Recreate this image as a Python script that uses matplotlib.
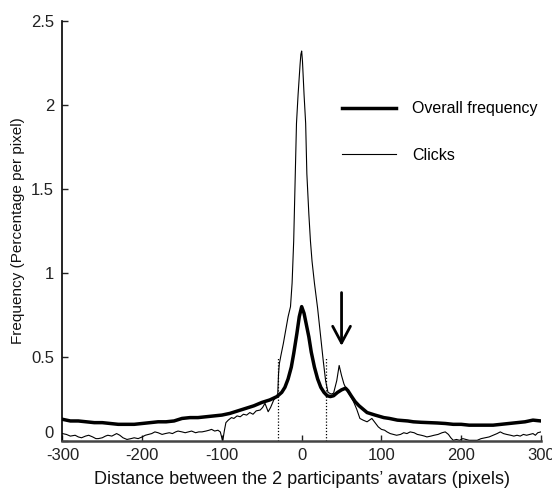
import matplotlib

matplotlib.use("Agg")
import matplotlib.pyplot as plt

plt.rcParams["font.family"] = ["Liberation Sans", "DejaVu Sans"]

# overall frequency (thick line)
overall_x = [-300, -290, -280, -270, -260, -250, -240, -230, -220, -210, -200,
             -190, -180, -170, -160, -150, -140, -130, -120, -110, -100, -90,
             -80, -70, -60, -50, -40, -31, -25, -21, -17, -13, -10, -6, -3, 0,
             3, 6, 9, 12, 16, 20, 24, 28, 32, 36, 40, 45, 50, 55, 58, 62, 67,
             72, 82, 92, 103, 110, 120, 133, 140, 150, 160, 170, 180, 190, 200,
             210, 220, 230, 240, 250, 260, 270, 280, 290, 300]
overall_y = [0.13, 0.12, 0.12, 0.115, 0.11, 0.11, 0.105, 0.10, 0.10, 0.10, 0.105,
             0.11, 0.115, 0.115, 0.12, 0.135, 0.14, 0.14, 0.145, 0.15, 0.155, 0.165,
             0.18, 0.195, 0.21, 0.23, 0.245, 0.265, 0.29, 0.32, 0.37, 0.44, 0.52, 0.64, 0.74, 0.80,
             0.76, 0.69, 0.62, 0.53, 0.44, 0.37, 0.32, 0.29, 0.27, 0.265, 0.27, 0.29, 0.305, 0.315, 0.30, 0.27, 0.235,
             0.21, 0.17, 0.155, 0.14, 0.135, 0.125, 0.12, 0.115, 0.112, 0.11, 0.108, 0.105, 0.10, 0.10,
             0.095, 0.095, 0.095, 0.095, 0.10, 0.105, 0.11, 0.115, 0.125, 0.12]

# clicks (thin line)
clicks_x = [-300, -295, -290, -284, -280, -276, -271, -267, -262, -258, -255, -250,
            -246, -243, -238, -232, -228, -224, -219, -214, -210, -205, -200, -196,
            -192, -188, -184, -180, -175, -171, -166, -162, -158, -155, -150, -146,
            -142, -138, -133, -129, -125, -120, -116, -113, -109, -105, -102, -99,
            -97, -95, -92, -88, -85, -81, -77, -73, -69, -65, -61, -57, -52, -49,
            -46, -44, -42, -39, -35, -32, -30, -29, -28, -26, -23, -20, -17, -14,
            -12, -10, -8, -6.5, -4.5, -2, -1, 0, 1, 3, 5, 6.5, 9, 11, 13, 16, 20,
            24, 27, 30, 33, 37, 40, 44, 47, 50, 53, 57, 61, 65, 69, 73, 77, 82, 85,
            88, 92, 96, 100, 104, 107, 111, 115, 119, 124, 128, 132, 136, 141, 145,
            150, 154, 157, 162, 166, 171, 176, 180, 184, 187, 190, 194, 198, 202,
            206, 210, 215, 220, 225, 230, 235, 240, 245, 249, 253, 257, 262, 266,
            270, 274, 278, 282, 286, 290, 293, 296, 300]
clicks_y = [0.045, 0.04, 0.03, 0.035, 0.025, 0.02, 0.03, 0.035, 0.025, 0.015, 0.015, 0.02,
            0.03, 0.035, 0.03, 0.045, 0.035, 0.02, 0.01, 0.015, 0.02, 0.015, 0.025, 0.035,
            0.04, 0.045, 0.055, 0.05, 0.04, 0.045, 0.05, 0.045, 0.055, 0.06, 0.055, 0.05,
            0.055, 0.06, 0.05, 0.055, 0.055, 0.06, 0.065, 0.07, 0.06, 0.065, 0.055, 0.0,
            0.06, 0.11, 0.125, 0.14, 0.135, 0.15, 0.145, 0.16, 0.155, 0.17, 0.16, 0.18, 0.185, 0.2,
            0.225, 0.2, 0.175, 0.2, 0.245, 0.26, 0.28, 0.40, 0.46, 0.51, 0.58, 0.66, 0.74, 0.80,
            0.94, 1.19, 1.59, 1.89, 2.06, 2.24, 2.30, 2.32, 2.26, 2.06, 1.89, 1.59, 1.35, 1.19, 1.07, 0.94, 0.79,
            0.61, 0.48, 0.36, 0.29, 0.28, 0.285, 0.36, 0.45, 0.39, 0.34, 0.30, 0.27, 0.235, 0.19, 0.135, 0.125, 0.115, 0.125,
            0.135, 0.11, 0.085, 0.07, 0.065, 0.055, 0.045, 0.04, 0.035, 0.04, 0.05, 0.045, 0.055, 0.05, 0.04,
            0.035, 0.03, 0.025, 0.03, 0.035, 0.04, 0.05, 0.055, 0.04, 0.02, 0.005, 0.01, 0.005, 0.015,
            0.01, 0.005, 0.005, 0.005, 0.015, 0.02, 0.025, 0.035, 0.045, 0.055, 0.045, 0.04, 0.035, 0.03,
            0.035, 0.03, 0.04, 0.035, 0.04, 0.045, 0.035, 0.05, 0.055]

series_labels = ["Overall frequency", "Clicks"]
zone_x = [-30, 30]
zone_top = 0.5
arrow_x = 50
arrow_from = 0.90
arrow_to = 0.55

x_ticks = [-300, -200, -100, 0, 100, 200, 300]
x_ticklabels = ["-300", "-200", "-100", "0", "100", "200", "300"]
y_ticks = [0, 0.5, 1, 1.5, 2, 2.5]
y_ticklabels = ["0", "0.5", "1", "1.5", "2", "2.5"]

fig = plt.figure(figsize=(5.52, 4.94), dpi=100)
ax = fig.add_axes([0.113, 0.107, 0.867, 0.851])

ax.plot(overall_x, overall_y, color="black", lw=2.5, label=series_labels[0], zorder=3)
ax.plot(clicks_x, clicks_y, color="black", lw=0.8, label=series_labels[1], zorder=2)

ax.vlines(zone_x, 0, zone_top, colors="black", linestyles=(0, (1, 1.5)), lw=0.9)
ax.annotate("", xy=(arrow_x, arrow_to), xytext=(arrow_x, arrow_from),
            arrowprops=dict(arrowstyle="->,head_length=0.6,head_width=0.32",
                            mutation_scale=20, lw=2, color="black"))

ax.set_xlim(-300, 300)
ax.set_ylim(0, 2.5)
ax.set_xticks(x_ticks)
ax.set_xticklabels(x_ticklabels)
ax.set_yticks(y_ticks)
ax.set_yticklabels(y_ticklabels)
ax.tick_params(direction="in", length=4, width=1, labelsize=12, colors="#222222")
ax.tick_params(axis="y", pad=6)
ax.tick_params(axis="x", pad=5)
# the "0" on the y axis sits a little above the x tick labels
ax.yaxis.get_major_ticks()[0].label1.set_va("bottom")

for side in ["top", "right"]:
    ax.spines[side].set_visible(False)
ax.spines["left"].set_linewidth(1.2)
ax.spines["bottom"].set_linewidth(1.8)
ax.spines["bottom"].set_color("#444444")

ax.set_xlabel("Distance between the 2 participants\u2019 avatars (pixels)", fontsize=13, labelpad=6, color="#111111")
ax.set_ylabel("Frequency (Percentage per pixel)", fontsize=11, labelpad=4, color="#111111")

ax.legend(loc="upper left", bbox_to_anchor=(0.554, 0.843), frameon=False, fontsize=11.5,
          handlelength=3.4, handletextpad=1.0, labelspacing=2.0)

fig.savefig("out.png", dpi=100, facecolor="white")
